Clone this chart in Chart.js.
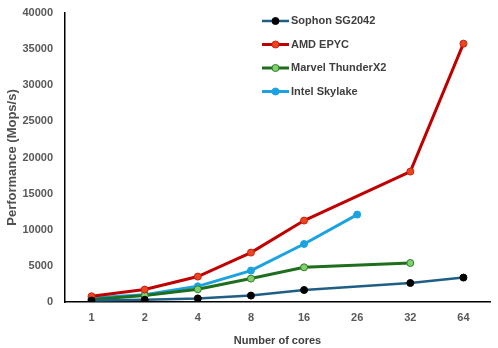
<!DOCTYPE html>
<html>
<head>
<meta charset="utf-8">
<script src="https://cdn.jsdelivr.net/npm/chart.js@4"></script>
<style>
  html, body { margin: 0; padding: 0; background: #fff; }
  #wrap { width: 498px; height: 348px; }
</style>
</head>
<body>
<div id="wrap"><canvas id="perfChart" width="498" height="348"></canvas></div>
<script>
// Data
var cores = ['1', '2', '4', '8', '16', '26', '32', '64'];
var sophon = [200, 300, 500, 890, 1660, null, 2630, 3380];
var amdEpyc = [790, 1720, 3520, 6840, 11270, null, 18050, 35760];
var marvell = [350, 900, 1760, 3240, 4800, null, 5400, null];
var intelSkylake = [550, 1020, 2170, 4350, 8030, 12100, null, null];
var yTicks = [0, 5000, 10000, 15000, 20000, 25000, 30000, 35000, 40000];

var tickFont = { family: 'Liberation Sans, Arial, sans-serif', size: 11, weight: 'bold' };
var tickColor = '#595959';

function series(label, data, line, fill, border, width) {
    return {
        label: label,
        data: data,
        borderColor: line,
        backgroundColor: line,
        borderWidth: width,
        pointRadius: 3.5,
        pointHoverRadius: 3.5,
        pointBackgroundColor: fill,
        pointBorderColor: border,
        pointBorderWidth: 1,
        spanGaps: true,
        tension: 0
    };
}

// legend drawn inside the plot, like the original
var insideLegend = {
    id: 'insideLegend',
    afterDraw: function(chart) {
        var ctx = chart.ctx;
        var x0 = 262, y0 = 21, step = 23.5;
        ctx.save();
        chart.data.datasets.forEach(function(ds, i) {
            var y = y0 + i * step;
            ctx.strokeStyle = ds.borderColor;
            ctx.lineWidth = ds.borderWidth;
            ctx.beginPath();
            ctx.moveTo(x0, y);
            ctx.lineTo(x0 + 27, y);
            ctx.stroke();
            ctx.beginPath();
            ctx.arc(x0 + 13.5, y, 3.5, 0, Math.PI * 2);
            ctx.fillStyle = ds.pointBackgroundColor;
            ctx.fill();
            ctx.lineWidth = 1;
            ctx.strokeStyle = ds.pointBorderColor;
            ctx.stroke();
            ctx.fillStyle = '#404040';
            ctx.font = 'bold 11px Liberation Sans, Arial, sans-serif';
            ctx.textBaseline = 'middle';
            ctx.textAlign = 'left';
            ctx.fillText(ds.label, x0 + 29, y);
        });
        ctx.restore();
    }
};

new Chart(document.getElementById('perfChart').getContext('2d'), {
    type: 'line',
    data: {
        labels: cores,
        datasets: [
            series('Sophon SG2042', sophon, '#1F5F85', '#000000', '#000000', 2.5),
            series('AMD EPYC', amdEpyc, '#C00000', '#E8461E', '#D02010', 3),
            series('Marvel ThunderX2', marvell, '#1E6E1E', '#80D06C', '#2E7D2E', 3),
            series('Intel Skylake', intelSkylake, '#1AA3E0', '#1AA3E0', '#1AA3E0', 3)
        ]
    },
    options: {
        responsive: false,
        animation: false,
        events: [],
        layout: { padding: { left: 5, right: 8, top: 13, bottom: 0 } },
        plugins: {
            legend: { display: false },
            tooltip: { enabled: false }
        },
        scales: {
            x: {
                offset: true,
                grid: { display: false, drawTicks: false },
                border: { display: true, color: '#000', width: 1.5 },
                ticks: { color: tickColor, font: tickFont, padding: 9 },
                title: {
                    display: true,
                    text: 'Number of cores',
                    color: '#404040',
                    font: tickFont,
                    padding: { top: 7, bottom: 0 }
                },
                afterFit: function(scale) { scale.height = 46; }
            },
            y: {
                min: 0,
                max: 40000,
                grid: { display: false, drawTicks: false },
                border: { display: true, color: '#000', width: 1.5 },
                afterBuildTicks: function(scale) {
                    scale.ticks = yTicks.map(function(v) { return { value: v }; });
                },
                ticks: {
                    color: tickColor,
                    font: tickFont,
                    padding: 12,
                    callback: function(value) { return String(value); }
                },
                title: {
                    display: true,
                    text: 'Performance (Mops/s)',
                    color: '#505050',
                    font: { family: 'Liberation Sans, Arial, sans-serif', size: 13, weight: 'bold' },
                    padding: { top: 0, bottom: 0 }
                },
                afterFit: function(scale) {
                    scale.width = 60;
                    scale.paddingTop = 0;
                    scale.paddingBottom = 0;
                }
            }
        }
    },
    plugins: [insideLegend]
});
</script>
</body>
</html>
